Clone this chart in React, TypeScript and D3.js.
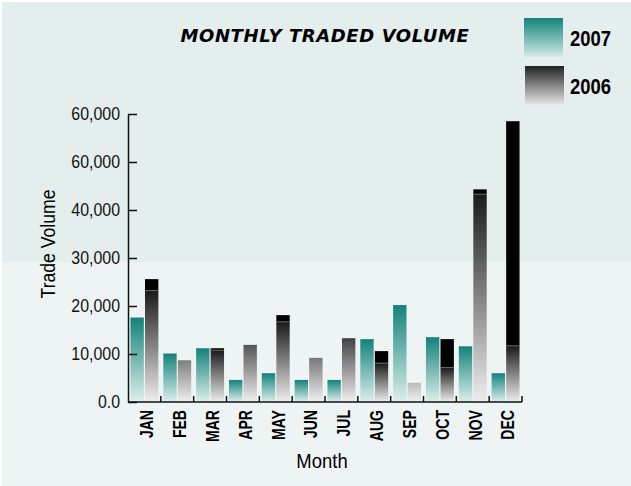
import React, { useEffect, useRef } from "react";
import * as d3 from "d3";

const months = ["JAN", "FEB", "MAR", "APR", "MAY", "JUN", "JUL", "AUG", "SEP", "OCT", "NOV", "DEC"];
const vol2007 = [17600, 10100, 11200, 4600, 6000, 4600, 4600, 13100, 20200, 13500, 11600, 6000];
const vol2006 = [25600, 8700, 11200, 11900, 18100, 9200, 13300, 10600, 4000, 13100, 44300, 58500];
// value where the solid black top of the 2006 bar starts (null = no black top)
const top2006 = [23200, null, 10800, null, 16700, null, null, 8100, null, 7200, 43300, 11700];
const tickValues = [0, 10000, 20000, 30000, 40000, 50000, 60000];
const tickLabels = ["0.0", "10,000", "20,000", "30,000", "40,000", "60,000", "60,000"];
const years = ["2007", "2006"];

// no condensed Helvetica here, so squeeze Liberation Sans horizontally
const sans = "'Liberation Sans', Arial, sans-serif";

const App = () => {
  const ref = useRef<SVGSVGElement>(null);

  useEffect(() => {
    const W = 631;
    const H = 486;
    const svg = d3.select(ref.current);
    svg.selectAll("*").remove();

    const left = 128, right = 522, top = 114, bottom = 402;

    const y = d3.scaleLinear().domain([0, 60000]).range([bottom, top]);
    const x = d3.scaleBand().domain(months).range([left, right]).paddingInner(0.15).paddingOuter(0.075);
    const xs = d3.scaleBand().domain(years).range([0, x.bandwidth()]).paddingInner(0.08);

    const defs = svg.append("defs");
    const grad = (id, c1, c2, user = false) => {
      const g = defs.append("linearGradient").attr("id", id)
        .attr("x1", 0).attr("x2", 0).attr("y1", 0).attr("y2", 1);
      if (user) {
        g.attr("gradientUnits", "userSpaceOnUse").attr("y1", y(16000)).attr("y2", y(0));
      }
      g.append("stop").attr("offset", "0%").attr("stop-color", c1);
      g.append("stop").attr("offset", "100%").attr("stop-color", c2);
    };
    grad("g07", "#13827b", "#dcefeb");
    grad("g06", "#1a1a1a", "#eeeeee");
    grad("g06u", "#1e1e1e", "#f0f0f0", true);
    grad("leg07", "#13827b", "#d3eae5");
    grad("leg06", "#222222", "#e8e8e8");

    // background
    svg.append("rect").attr("x", 2).attr("y", 2).attr("width", W - 2).attr("height", H - 2).attr("fill", "#eef4f4");
    svg.append("rect").attr("x", 2).attr("y", 2).attr("width", W - 2).attr("height", 260).attr("fill", "#e4eeed");

    // title
    svg.append("text")
      .attr("x", 325).attr("y", 42)
      .attr("text-anchor", "middle")
      .attr("font-family", "'DejaVu Sans', sans-serif")
      .attr("font-weight", "bold").attr("font-style", "italic")
      .attr("font-size", 18).attr("letter-spacing", 0.6)
      .text("MONTHLY TRADED VOLUME");

    // legend
    const leg = [
      { id: "leg07", x: 524, y: 18, label: "2007" },
      { id: "leg06", x: 525, y: 66, label: "2006" },
    ];
    leg.forEach((d) => {
      svg.append("rect").attr("x", d.x).attr("y", d.y).attr("width", 39).attr("height", 39)
        .attr("fill", `url(#${d.id})`);
      svg.append("text")
        .attr("transform", `translate(570,${d.y + 28}) scale(0.84,1)`)
        .attr("font-family", sans).attr("font-weight", "bold").attr("font-size", 22)
        .text(d.label);
    });

    // bars
    const g = svg.append("g");
    months.forEach((m, i) => {
      const x0 = x(m);
      g.append("rect")
        .attr("x", x0 + xs("2007")).attr("width", xs.bandwidth())
        .attr("y", y(vol2007[i])).attr("height", bottom - y(vol2007[i]))
        .attr("fill", "url(#g07)");

      const capAt = top2006[i];
      const lowTop = capAt == null ? vol2006[i] : capAt;
      g.append("rect")
        .attr("x", x0 + xs("2006")).attr("width", xs.bandwidth())
        .attr("y", y(lowTop)).attr("height", bottom - y(lowTop))
        .attr("fill", capAt == null ? "url(#g06u)" : "url(#g06)");
      if (capAt != null) {
        g.append("rect")
          .attr("x", x0 + xs("2006")).attr("width", xs.bandwidth())
          .attr("y", y(vol2006[i])).attr("height", y(capAt) - y(vol2006[i]))
          .attr("fill", "#000");
        g.append("line")
          .attr("x1", x0 + xs("2006")).attr("x2", x0 + xs("2006") + xs.bandwidth())
          .attr("y1", y(capAt)).attr("y2", y(capAt))
          .attr("stroke", "#666").attr("stroke-width", 1);
      }
    });

    // y axis
    const yAxis = d3.axisLeft(y)
      .tickValues(tickValues)
      .tickFormat((d, i) => tickLabels[i])
      .tickSizeInner(-9).tickSizeOuter(0).tickPadding(8);
    const ya = svg.append("g").attr("transform", `translate(${left},0)`).call(yAxis);
    ya.select(".domain").attr("stroke", "#111").attr("stroke-width", 1.5);
    ya.selectAll(".tick line").attr("stroke", "#111").attr("stroke-width", 1.5);
    ya.selectAll(".tick text")
      .attr("x", -8 / 0.86).attr("transform", "scale(0.86,1)")
      .attr("font-family", sans).attr("font-size", 18.5).attr("fill", "#111");

    // x axis
    svg.append("line").attr("x1", left).attr("x2", right).attr("y1", bottom).attr("y2", bottom)
      .attr("stroke", "#111").attr("stroke-width", 1.5);
    d3.range(1, months.length + 1).forEach((k) => {
      const xx = left + k * x.step();
      svg.append("line").attr("x1", xx).attr("x2", xx).attr("y1", bottom).attr("y2", bottom - 6)
        .attr("stroke", "#111").attr("stroke-width", 1.5);
    });
    months.forEach((m) => {
      const cx = x(m) + x.bandwidth() / 2;
      svg.append("text")
        .attr("transform", `translate(${cx + 2},410) rotate(-90) scale(0.74,1)`)
        .attr("text-anchor", "end").attr("dy", "0.36em")
        .attr("font-family", sans).attr("font-weight", "bold").attr("font-size", 19)
        .text(m);
    });

    // axis titles
    svg.append("text")
      .attr("transform", `translate(55,244) rotate(-90) scale(0.88,1)`)
      .attr("text-anchor", "middle")
      .attr("font-family", sans).attr("font-size", 20)
      .text("Trade Volume");
    svg.append("text")
      .attr("transform", `translate(322,468) scale(0.88,1)`)
      .attr("text-anchor", "middle")
      .attr("font-family", sans).attr("font-size", 21)
      .text("Month");
  }, []);

  return (
    <svg
      ref={ref}
      width={631}
      height={486}
      style={{ position: "absolute", left: 0, top: 0, display: "block" }}
    />
  );
};

export default App;
